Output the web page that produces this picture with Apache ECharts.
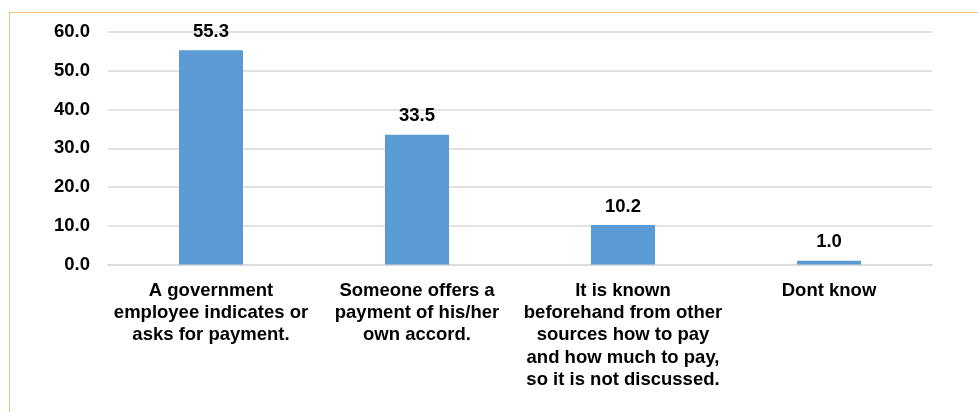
<!DOCTYPE html>
<html>
<head>
<meta charset="utf-8">
<script src="https://cdn.jsdelivr.net/npm/echarts@6/dist/echarts.min.js"></script>
<style>
  html, body { margin: 0; padding: 0; background: #fff; overflow: hidden; }
  #frame { position: absolute; left: 9px; top: 12px; width: 1200px; height: 600px; border: 1px solid #f9bf7f; box-sizing: border-box; }
  #chart { position: absolute; left: 0; top: 0; width: 978px; height: 412px; }
</style>
</head>
<body>
<div id="frame"></div>
<div id="chart"></div>
<script>
const categories = [
  "A government\nemployee indicates or\nasks for payment.",
  "Someone offers a\npayment of his/her\nown accord.",
  "It is known\nbeforehand from other\nsources how to pay\nand how much to pay,\nso it is not discussed.",
  "Dont know"
];
const values = [55.3, 33.5, 10.2, 1.0];
const yTicks = { min: 0, max: 60, interval: 10 };

const chart = echarts.init(document.getElementById('chart'), null, { renderer: 'canvas' });
const font = "'Liberation Sans', Arial, sans-serif";
chart.setOption({
  animation: false,
  grid: { left: 108, right: 46, top: 32, bottom: 147.5, containLabel: false },
  xAxis: {
    type: 'category',
    data: categories,
    axisLine: { show: true, lineStyle: { color: '#d9d9d9', width: 1.5 } },
    axisTick: { show: false },
    axisLabel: {
      interval: 0,
      margin: 15,
      color: '#000',
      fontFamily: font,
      fontWeight: 'bold',
      fontSize: 18.5,
      lineHeight: 22.3
    }
  },
  yAxis: {
    type: 'value',
    min: yTicks.min,
    max: yTicks.max,
    interval: yTicks.interval,
    axisLine: { show: false },
    axisTick: { show: false },
    splitLine: { lineStyle: { color: '#d9d9d9', width: 1.5 } },
    axisLabel: {
      margin: 18,
      color: '#000',
      fontFamily: font,
      fontWeight: 'bold',
      fontSize: 18.5,
      formatter: v => v.toFixed(1)
    }
  },
  series: [{
    type: 'bar',
    data: values,
    barWidth: 64,
    itemStyle: { color: '#5b9bd5' },
    label: {
      show: true,
      position: 'top',
      distance: 9,
      color: '#000',
      fontFamily: font,
      fontWeight: 'bold',
      fontSize: 18.5,
      formatter: p => p.value.toFixed(1)
    }
  }]
});
</script>
</body>
</html>
